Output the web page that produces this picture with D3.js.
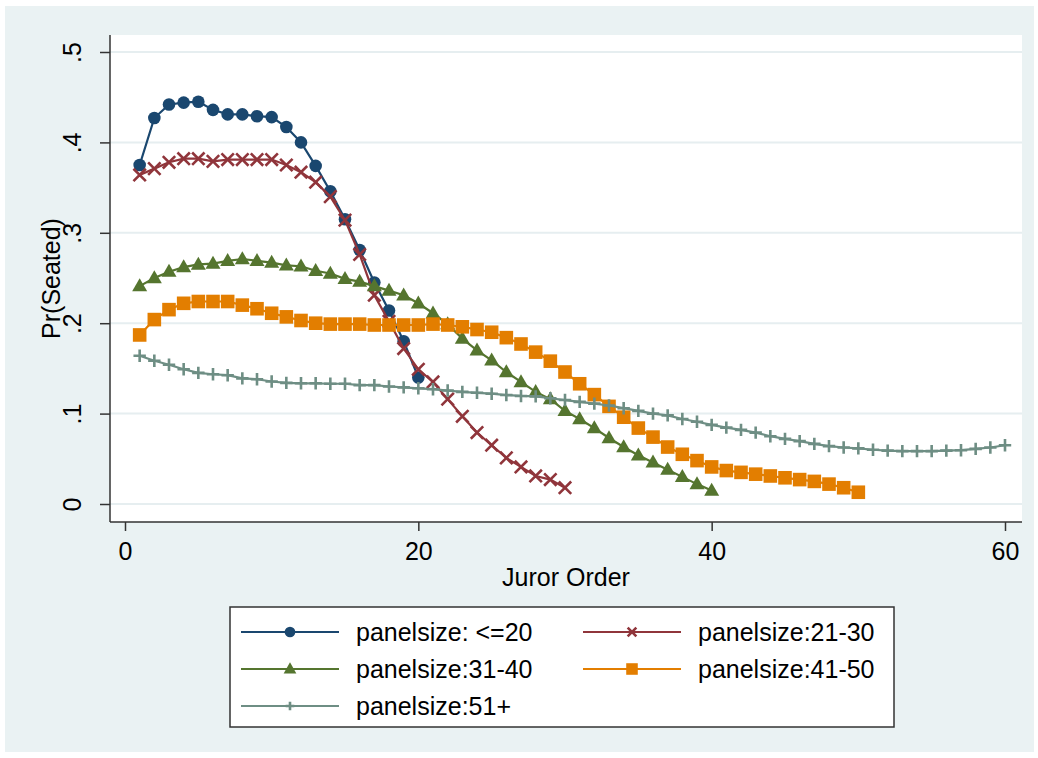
<!DOCTYPE html>
<html>
<head>
<meta charset="utf-8">
<script src="https://cdn.jsdelivr.net/npm/d3@7"></script>
<style>
  html, body { margin: 0; padding: 0; background: #ffffff; }
  svg { display: block; font-family: Arial, "Liberation Sans", sans-serif; }
</style>
</head>
<body>
<svg id="chart" width="1038" height="758"></svg>
<script>
// Predicted probability of being seated, by juror order, for five panel sizes
const seriesNames = ["panelsize: <=20", "panelsize:21-30", "panelsize:31-40", "panelsize:41-50", "panelsize:51+"];

const panelUpTo20 = [.375,.427,.442,.444,.445,.436,.431,.431,.429,.428,.417,.400,.374,.346,.315,.281,.245,.214,.180,.140];

const panel21to30 = [.364,.371,.378,.382,.382,.379,.381,.381,.381,.381,.375,.367,.356,.340,.314,.276,.231,.202,.172,.149,
                     .135,.116,.097,.079,.065,.051,.041,.031,.027,.018];

const panel31to40 = [.241,.250,.257,.262,.265,.266,.269,.271,.269,.267,.264,.263,.258,.255,.249,.246,.241,.236,.231,.222,
                     .211,.199,.183,.170,.159,.146,.135,.124,.116,.103,.094,.084,.073,.063,.054,.046,.038,.030,.022,.015];

const panel41to50 = [.187,.204,.215,.222,.224,.224,.224,.220,.216,.211,.207,.203,.200,.199,.199,.199,.198,.198,.198,.198,
                     .199,.198,.196,.193,.190,.184,.177,.168,.158,.146,.133,.121,.108,.096,.084,.074,.063,.055,.048,.041,
                     .037,.035,.033,.031,.029,.027,.025,.022,.018,.013];

const panel51plus = [.164,.1585,.154,.149,.145,.1435,.1425,.139,.138,.1355,.134,.1335,.1335,.133,.133,.1315,.1315,.130,.129,.128,
                     .127,.1255,.124,.123,.122,.1205,.1195,.119,.117,.115,.113,.111,.109,.106,.103,.100,.098,.094,.091,.0875,
                     .0845,.082,.079,.075,.072,.0695,.0665,.064,.0625,.0615,.060,.059,.0585,.0585,.0585,.059,.0595,.061,.0625,.065];

const xTicks = [0, 20, 40, 60];
const yTicks = [0, .1, .2, .3, .4, .5];
const xTitle = "Juror Order";
const yTitle = "Pr(Seated)";

const colors = ["#1a476f", "#90353b", "#55752f", "#e37e00", "#6e8e84"];
const markers = ["circle", "x", "triangle", "square", "plus"];
const seriesValues = [panelUpTo20, panel21to30, panel31to40, panel41to50, panel51plus];

const series = seriesNames.map((name, i) => ({
  name, color: colors[i], marker: markers[i],
  points: seriesValues[i].map((v, j) => ({ order: j + 1, p: v }))
}));

const svg = d3.select("#chart");
const bgColor = "#eaf2f3";
const gridColor = "#e6eef0";
const axisFont = 25;
const legendFont = 25;

// graph region
svg.append("rect").attr("x", 5).attr("y", 6).attr("width", 1029).attr("height", 746).attr("fill", bgColor);

// plot region
const plot = { left: 110, top: 35, right: 1022, bottom: 522 };
svg.append("rect")
  .attr("x", plot.left).attr("y", plot.top)
  .attr("width", plot.right - plot.left).attr("height", plot.bottom - plot.top)
  .attr("fill", "#ffffff");

const x = d3.scaleLinear().domain([0, 60]).range([125, 1005]);
const y = d3.scaleLinear().domain([0, 0.5]).range([504, 52]);

// horizontal grid
svg.append("g").selectAll("line").data(yTicks).join("line")
  .attr("x1", plot.left).attr("x2", plot.right)
  .attr("y1", d => y(d)).attr("y2", d => y(d))
  .attr("stroke", gridColor).attr("stroke-width", 2);

// axes
const fmtY = d => d === 0 ? "0" : d3.format(".1f")(d).replace(/^0/, "");
const yAxis = svg.append("g").attr("transform", `translate(${plot.left},0)`)
  .call(d3.axisLeft(y).tickValues(yTicks).tickFormat(fmtY).tickSize(10).tickSizeOuter(0));
yAxis.select(".domain").remove();
yAxis.selectAll(".tick line").attr("stroke", "#333").attr("stroke-width", 1.5);
yAxis.selectAll(".tick text")
  .attr("x", null).attr("dy", null)
  .attr("transform", "translate(-29,0) rotate(-90)")
  .attr("text-anchor", "middle")
  .attr("font-size", axisFont).attr("fill", "#000");

const xAxis = svg.append("g").attr("transform", `translate(0,${plot.bottom})`)
  .call(d3.axisBottom(x).tickValues(xTicks).tickFormat(d3.format("d")).tickSize(9).tickSizeOuter(0));
xAxis.select(".domain").remove();
xAxis.selectAll(".tick line").attr("stroke", "#333").attr("stroke-width", 1.5);
xAxis.selectAll(".tick text").attr("y", 38).attr("dy", null)
  .attr("font-size", axisFont).attr("fill", "#000");

svg.append("line").attr("x1", plot.left).attr("x2", plot.left).attr("y1", plot.top).attr("y2", plot.bottom)
  .attr("stroke", "#333").attr("stroke-width", 1.5);
svg.append("line").attr("x1", plot.left).attr("x2", plot.right).attr("y1", plot.bottom).attr("y2", plot.bottom)
  .attr("stroke", "#333").attr("stroke-width", 1.5);

// axis titles
svg.append("text").attr("x", (plot.left + plot.right) / 2).attr("y", 586)
  .attr("text-anchor", "middle").attr("font-size", axisFont).attr("fill", "#000").text(xTitle);
svg.append("text").attr("transform", `translate(60,${(plot.top + plot.bottom) / 2}) rotate(-90)`)
  .attr("text-anchor", "middle").attr("font-size", axisFont).attr("fill", "#000").text(yTitle);

// marker drawing
function drawMarker(g, type, color, s) {
  if (type === "circle") {
    g.append("circle").attr("r", 6.3 * s).attr("fill", color);
  } else if (type === "square") {
    const h = 6.8 * s;
    g.append("rect").attr("x", -h).attr("y", -h).attr("width", 2 * h).attr("height", 2 * h).attr("fill", color);
  } else if (type === "triangle") {
    const w = 7.5 * s, ht = 13 * s;
    g.append("path").attr("d", `M0,${-ht * 0.6}L${w},${ht * 0.4}L${-w},${ht * 0.4}Z`).attr("fill", color);
  } else if (type === "x") {
    const h = 6.2 * s;
    g.append("path").attr("d", `M${-h},${-h}L${h},${h}M${-h},${h}L${h},${-h}`)
      .attr("stroke", color).attr("stroke-width", 2.6).attr("fill", "none");
  } else if (type === "plus") {
    const h = 6.2 * s;
    g.append("path").attr("d", `M${-h},0L${h},0M0,${-h}L0,${h}`)
      .attr("stroke", color).attr("stroke-width", 2.6).attr("fill", "none");
  }
}

const line = d3.line().x(d => x(d.order)).y(d => y(d.p));

series.forEach(s => {
  const g = svg.append("g");
  g.append("path").datum(s.points).attr("d", line)
    .attr("fill", "none").attr("stroke", s.color).attr("stroke-width", 2.2);
  g.selectAll("g.m").data(s.points).join("g").attr("class", "m")
    .attr("transform", d => `translate(${x(d.order)},${y(d.p)})`)
    .each(function () { drawMarker(d3.select(this), s.marker, s.color, 1); });
});

// legend
const legend = svg.append("g");
legend.append("rect").attr("x", 230).attr("y", 607).attr("width", 664).attr("height", 120)
  .attr("fill", "#ffffff").attr("stroke", "#333").attr("stroke-width", 1.5);
const cols = [241, 583];
const rows = [632, 669, 706];
series.forEach((s, i) => {
  const cx = cols[i % 2], cy = rows[Math.floor(i / 2)];
  const item = legend.append("g").attr("transform", `translate(${cx},${cy})`);
  item.append("line").attr("x1", 0).attr("x2", 98).attr("y1", 0).attr("y2", 0)
    .attr("stroke", s.color).attr("stroke-width", 2.2);
  const mg = item.append("g").attr("transform", "translate(49,0)");
  drawMarker(mg, s.marker, s.color, s.marker === "x" || s.marker === "plus" ? 0.7 : 0.85);
  item.append("text").attr("x", 115).attr("y", 9).attr("font-size", legendFont).attr("fill", "#000").text(s.name);
});
</script>
</body>
</html>
